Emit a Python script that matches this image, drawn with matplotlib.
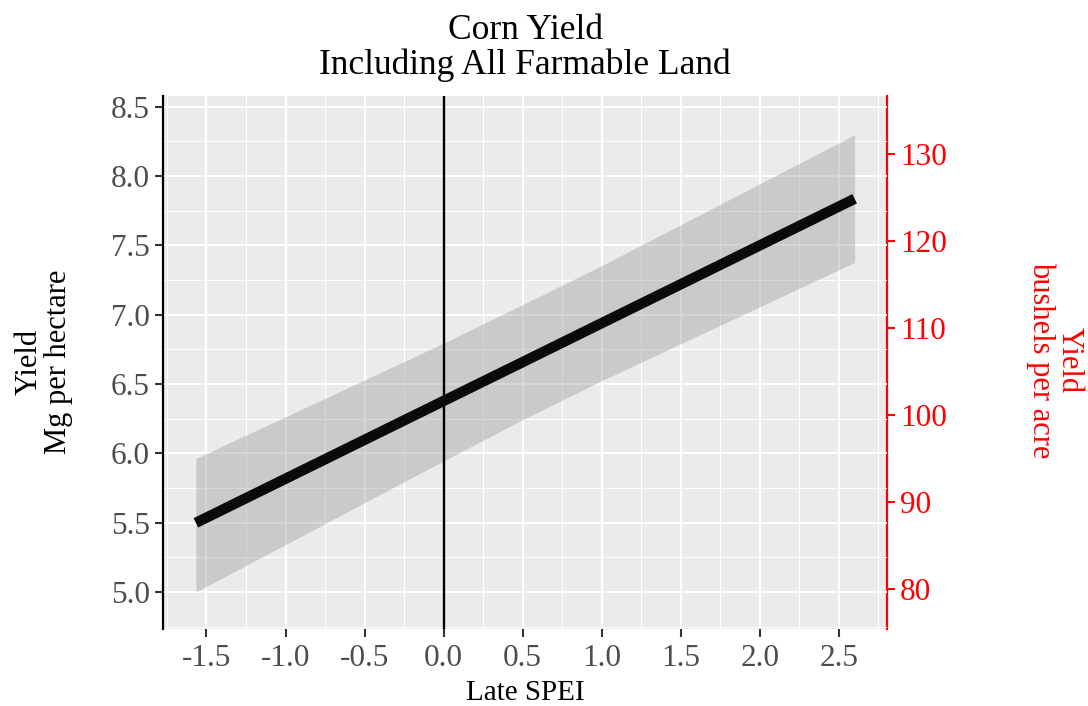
import matplotlib
matplotlib.use("Agg")
import matplotlib.pyplot as plt
from matplotlib.ticker import MultipleLocator

# fitted corn yield (Mg/ha) against late-season SPEI, with confidence band
spei = [-1.567, 0.0, 0.5, 1.0, 2.60]
fit = [5.499, 6.378, 6.658, 6.939, 7.836]
lower = [5.000, 5.946, 6.243, 6.524, 7.377]
upper = [5.963, 6.795, 7.073, 7.354, 8.298]

x_ticks = [-1.5, -1.0, -0.5, 0.0, 0.5, 1.0, 1.5, 2.0, 2.5]
y_ticks = [5.0, 5.5, 6.0, 6.5, 7.0, 7.5, 8.0, 8.5]
bu_ticks = [80, 90, 100, 110, 120, 130]
MG_TO_BU = 15.93  # Mg/ha -> bushels/acre for corn

plt.rcParams["font.family"] = ["Liberation Serif", "DejaVu Serif"]

fig = plt.figure(figsize=(10.88, 7.06), dpi=100)
ax = fig.add_axes([0.1498, 0.109, 0.6655, 0.755])
ax.set_facecolor("#EBEBEB")

ax.fill_between(spei, lower, upper, color="#999999", alpha=0.4, linewidth=0, zorder=2)
ax.axvline(0, color="black", lw=1.7, zorder=3)
ax.plot(spei, fit, color="#0A0A0A", lw=7.5, solid_capstyle="butt", zorder=4)

ax.set_xlim(-1.775, 2.805)
ax.set_ylim(4.733, 8.577)
ax.set_xticks(x_ticks)
ax.set_xticklabels([f"{t:.1f}" for t in x_ticks])
ax.set_yticks(y_ticks)
ax.set_yticklabels([f"{t:.1f}" for t in y_ticks])
ax.xaxis.set_minor_locator(MultipleLocator(0.25))
ax.yaxis.set_minor_locator(MultipleLocator(0.25))

ax.set_axisbelow(True)
ax.grid(which="major", color="white", lw=1.5)
ax.grid(which="minor", color="white", lw=0.75)

for side in ["top", "bottom", "right"]:
    ax.spines[side].set_visible(False)
ax.spines["left"].set_color("black")
ax.spines["left"].set_linewidth(1.6)

ax.tick_params(which="major", length=6, width=1.5, color="#333333",
               labelcolor="#4D4D4D", labelsize=22.5)
ax.tick_params(which="minor", length=0)
ax.tick_params(axis="x", pad=5)

sec = ax.secondary_yaxis("right", functions=(lambda m: m * MG_TO_BU,
                                             lambda b: b / MG_TO_BU))
sec.set_yticks(bu_ticks)
sec.minorticks_off()
sec.spines["right"].set_color("red")
sec.spines["right"].set_linewidth(1.6)
sec.tick_params(length=6, width=1.5, color="red", labelcolor="red", labelsize=22.5)

ax.set_xlabel("Late SPEI", fontsize=21, labelpad=5)
ax.set_title("Corn Yield\nIncluding All Farmable Land", fontsize=25.5,
             linespacing=1.05, pad=16)

fig.text(44 / 1088, 1 - 362 / 706, "Yield\nMg per hectare", rotation=90,
         ha="center", va="center", fontsize=22, linespacing=1.0)
fig.text(1055 / 1088, 1 - 360 / 706, "Yield\nbushels per acre", rotation=270,
         ha="center", va="center", fontsize=22, linespacing=0.95, color="red")

fig.savefig("out.png", dpi=100)
